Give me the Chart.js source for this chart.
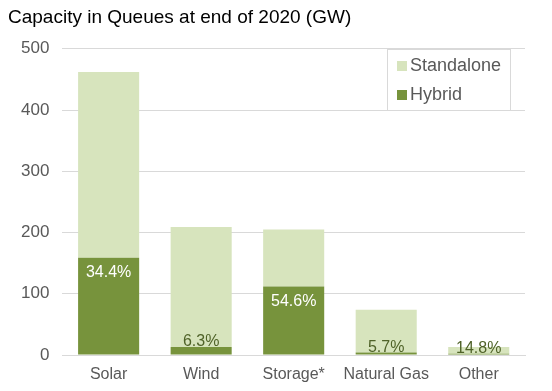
<!DOCTYPE html>
<html>
<head>
<meta charset="utf-8">
<script src="https://cdn.jsdelivr.net/npm/chart.js@4/dist/chart.umd.min.js"></script>
<style>
  html, body { margin: 0; padding: 0; background: #fff; }
  #wrap { width: 552px; height: 391px; }
</style>
</head>
<body>
<div id="wrap"><canvas id="grafico" width="552" height="391"></canvas></div>
<script>
// datos (GW)
const categorias = ['Solar', 'Wind', 'Storage*', 'Natural Gas', 'Other'];
const hibrido = [159, 13, 112, 4.2, 1.9];
const independiente = [303, 196, 93, 69.8, 11.1];
const porcentajes = ['34.4%', '6.3%', '54.6%', '5.7%', '14.8%'];
const ticksY = [0, 100, 200, 300, 400, 500];

const verdeOscuro = '#77933C';
const verdeClaro = '#D7E4BD';
const fuente = "'Liberation Sans', Arial, sans-serif";

// etiquetas de porcentaje sobre la serie Hybrid
const etiquetas = {
  id: 'etiquetas',
  afterDatasetsDraw(chart) {
    const ctx = chart.ctx;
    const meta = chart.getDatasetMeta(0);
    ctx.save();
    ctx.font = '16px ' + fuente;
    ctx.textAlign = 'center';
    ctx.textBaseline = 'middle';
    meta.data.forEach((bar, i) => {
      const alto = bar.base - bar.y;
      if (alto > 30) {
        ctx.fillStyle = '#ffffff';
        ctx.fillText(porcentajes[i], bar.x, bar.y + 15);
      } else {
        ctx.fillStyle = '#4F6228';
        ctx.fillText(porcentajes[i], bar.x, bar.y - 5);
      }
    });
    ctx.restore();
  }
};

// leyenda dentro del área del gráfico, arriba a la derecha
const leyenda = {
  id: 'leyenda',
  afterDraw(chart) {
    const ctx = chart.ctx;
    const area = chart.chartArea;
    const y = chart.scales.y;
    const top = Math.round(y.getPixelForValue(500));
    const bottom = Math.round(y.getPixelForValue(400));
    const left = 387;
    const right = area.right - 14;
    ctx.save();
    ctx.fillStyle = '#ffffff';
    ctx.fillRect(left, top, right - left, bottom - top);
    ctx.strokeStyle = '#D9D9D9';
    ctx.lineWidth = 1;
    ctx.strokeRect(left + 0.5, top + 0.5, right - left - 1, bottom - top);
    const items = [['Standalone', verdeClaro], ['Hybrid', verdeOscuro]];
    ctx.font = '18px ' + fuente;
    ctx.textBaseline = 'middle';
    ctx.textAlign = 'left';
    items.forEach((it, k) => {
      const cy = top + 16 + k * 29;
      ctx.fillStyle = it[1];
      ctx.fillRect(397, cy - 4, 10, 10);
      ctx.fillStyle = '#595959';
      ctx.fillText(it[0], 410, cy + 1);
    });
    ctx.restore();
  }
};

new Chart(document.getElementById('grafico'), {
  type: 'bar',
  data: {
    labels: categorias,
    datasets: [
      { label: 'Hybrid', data: hibrido, backgroundColor: verdeOscuro, categoryPercentage: 1, barPercentage: 0.66 },
      { label: 'Standalone', data: independiente, backgroundColor: verdeClaro, categoryPercentage: 1, barPercentage: 0.66 }
    ]
  },
  options: {
    responsive: false,
    animation: false,
    layout: { padding: { left: 8, right: 27, top: 0, bottom: 6 } },
    plugins: {
      legend: { display: false },
      tooltip: { enabled: false },
      title: {
        display: true,
        text: 'Capacity in Queues at end of 2020 (GW)',
        align: 'start',
        color: '#000000',
        font: { family: fuente, size: 19, weight: 'normal' },
        padding: { top: 6, bottom: 20 }
      }
    },
    scales: {
      x: {
        stacked: true,
        grid: { display: false },
        border: { display: true, color: '#D9D9D9' },
        ticks: { color: '#595959', font: { family: fuente, size: 16 }, padding: 2 },
        afterFit: (eje) => { eje.height = 30; }
      },
      y: {
        stacked: true,
        min: 0,
        max: 500,
        afterBuildTicks: (eje) => { eje.ticks = ticksY.map(v => ({ value: v })); },
        grid: { color: '#D9D9D9', drawTicks: false },
        border: { display: false },
        ticks: { color: '#595959', font: { family: fuente, size: 17 }, padding: 13 }
      }
    }
  },
  plugins: [etiquetas, leyenda]
});
</script>
</body>
</html>
